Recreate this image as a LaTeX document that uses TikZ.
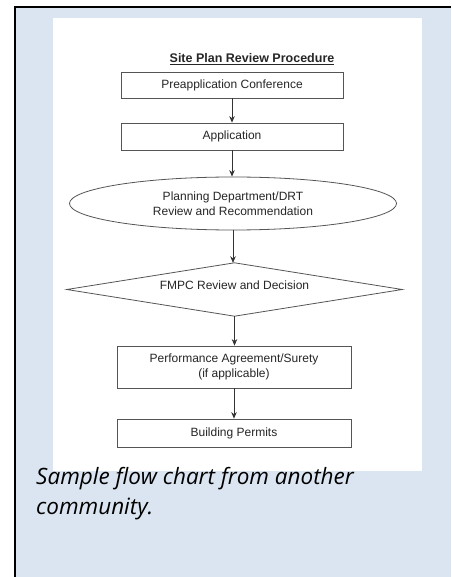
\documentclass[tikz,border=0pt]{standalone}
\usepackage{fontspec}
\setmainfont{Liberation Sans}
\newfontfamily\capfont{Open Sans}
\usetikzlibrary{shapes.geometric,arrows.meta}
\definecolor{panelblue}{HTML}{DBE5F1}
\definecolor{lineg}{HTML}{555555}
\definecolor{textg}{HTML}{262626}
\tikzset{
  flowbox/.style={draw=lineg, line width=0.8pt, rectangle, inner sep=0pt, align=center,
    text=textg, font=\fontsize{12}{15.5}\selectfont},
  flowell/.style={draw=lineg, line width=0.8pt, ellipse, inner sep=0pt, align=center,
    text=textg, font=\fontsize{12}{15.5}\selectfont, minimum width=327pt, minimum height=53pt},
  flowdia/.style={rectangle, inner sep=0pt, align=center,
    text=textg, font=\fontsize{12}{15.5}\selectfont, minimum width=335pt, minimum height=53pt},
  flowarrow/.style={draw=black!80, line width=0.7pt, -{Stealth[length=6.5pt,width=5.5pt]}}
}
\begin{document}
\begin{tikzpicture}[x=1pt,y=-1pt]
\useasboundingbox (0,0) rectangle (451,577);
% background panel and frame
\fill[panelblue] (15,7) rectangle (451,577);
\draw[black, line width=2.2pt] (15.1,577) -- (15.1,7.1) -- (451,7.1);
% white image panel
\fill[white] (53,18) rectangle (422,471);
% title
\node[font=\fontsize{12.5}{14}\bfseries\selectfont, text=textg] (title) at (252,59) {\underline{Site Plan Review Procedure}};
% nodes
\node[flowbox, minimum width=222pt, minimum height=26pt] (pre) at (232,85) {Preapplication Conference};
\node[flowbox, minimum width=222pt, minimum height=27pt] (app) at (232,136.5) {Application};
\node[flowell] (plan) at (233,203.5) {Planning Department/DRT\\Review and Recommendation};
\node[flowdia] (fmpc) at (234.5,289.5) {};
\draw[draw=lineg, line width=0.8pt] (fmpc.west) -- (fmpc.north) -- (fmpc.east) -- (fmpc.south) -- cycle;
\node[text=textg, font=\fontsize{12}{15.5}\selectfont] (fmpctext) at (234.5,285.5) {FMPC Review and Decision};
\node[flowbox, minimum width=234pt, minimum height=42pt] (perf) at (234,367) {Performance Agreement/Surety\\(if applicable)};
\node[flowbox, minimum width=234pt, minimum height=28pt] (bp) at (234,433) {Building Permits};
% connectors
\draw[flowarrow] (pre.south -| app.north) -- (app.north);
\draw[flowarrow] (app.south) -- (plan.north -| app.south);
\draw[flowarrow] (plan.south) -- (fmpc.north -| plan.south);
\draw[flowarrow] (fmpc.south) -- (perf.north -| fmpc.south);
\draw[flowarrow] (perf.south) -- (bp.north);
% caption
\node[anchor=base west, font=\capfont\itshape\fontsize{22.5}{30}\selectfont, text=black, align=left, inner sep=0pt] (cap) at (36,514) {Sample flow chart from another\\community.};
\end{tikzpicture}
\end{document}
